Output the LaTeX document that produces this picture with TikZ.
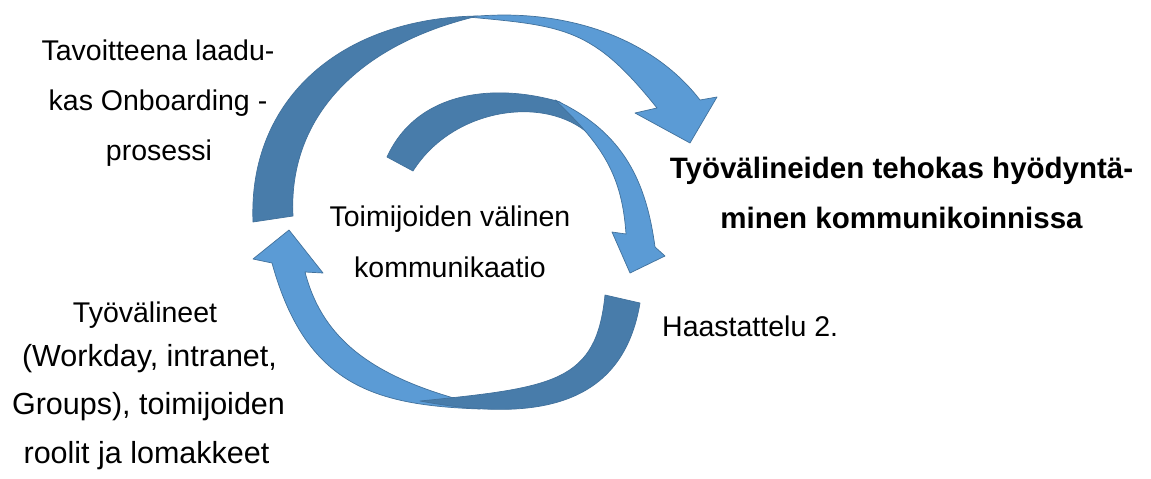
\documentclass[tikz,border=0pt]{standalone}
\usepackage{fontspec}
\setmainfont{Liberation Sans}
\definecolor{arrdark}{RGB}{72,124,170}
\definecolor{arrlight}{RGB}{91,155,213}
\definecolor{arredge}{RGB}{65,113,156}
\begin{document}
\begin{tikzpicture}[x=1pt,y=-1pt,
  darkpart/.style={fill=arrdark,draw=arredge,line width=0.7pt,line join=round},
  lightpart/.style={fill=arrlight,draw=arredge,line width=0.7pt,line join=round},
  lbl/.style={anchor=base,inner sep=0pt,font=\fontsize{28.5}{34}\selectfont},
  wlbl/.style={anchor=base,inner sep=0pt,font=\fontsize{30.5}{36}\selectfont},
  blbl/.style={anchor=base,inner sep=0pt,font=\fontsize{29.5}{35}\selectfont\bfseries}]
\useasboundingbox[fill=white] (0,0) rectangle (1151,479);

% --- top large arrow ---
\path[darkpart] (253,222) .. controls (248,100) and (340,18) .. (478,16)
  .. controls (355,45) and (288,120) .. (293,216) -- cycle;
\path[lightpart] (468,17) .. controls (560,7) and (650,35) .. (700,100)
  -- (717,97) -- (690,143) -- (635,113) -- (657,108)
  .. controls (593,28) and (565,26) .. (468,17) -- cycle;

% --- inner arrow ---
\path[darkpart] (387,157) .. controls (418,89) and (498,83.5) .. (560,102)
  -- (590,135) .. controls (546,94.3) and (453,107.5) .. (413,171) -- cycle;
\path[lightpart] (555,100) .. controls (625,132.4) and (646.5,183.9) .. (655,247)
  -- (665,256) -- (630,273) -- (612,232) -- (626,234)
  .. controls (622,175.4) and (603,145.2) .. (555,100) -- cycle;

% --- bottom arrow ---
\path[lightpart] (480,409) .. controls (376.6,405.2) and (306,386.8) .. (272,263)
  -- (253,259) -- (289,230) -- (323,273) -- (305,272)
  .. controls (322.9,341.3) and (375.4,379.6) .. (480,405) -- cycle;
\path[darkpart] (605,295) -- (640,303) .. controls (623.4,402.4) and (543,424) .. (420,401)
  .. controls (555.4,387.5) and (596.3,381.8) .. (605,295) -- cycle;

% --- labels ---
\node[lbl] (goal1) at (158,60) {Tavoitteena laadu-};
\node[lbl] (goal2) at (158,110.7) {kas Onboarding -};
\node[lbl] (goal3) at (159,160) {prosessi};
\node[blbl] (res1) at (901.5,178) {Työvälineiden tehokas hyödyntä-};
\node[blbl] (res2) at (901.5,228) {minen kommunikoinnissa};
\node[lbl] (mid1) at (450,226.7) {Toimijoiden välinen};
\node[lbl] (mid2) at (450,277) {kommunikaatio};
\node[lbl,anchor=base west] (intv) at (662,336.7) {Haastattelu 2.};
\node[lbl] (tool1) at (145,322) {Työvälineet};
\node[wlbl] (tool2) at (149.5,366) {(Workday, intranet,};
\node[wlbl] (tool3) at (148.5,414) {Groups), toimijoiden};
\node[wlbl] (tool4) at (146.5,463) {roolit ja lomakkeet};
\end{tikzpicture}
\end{document}
